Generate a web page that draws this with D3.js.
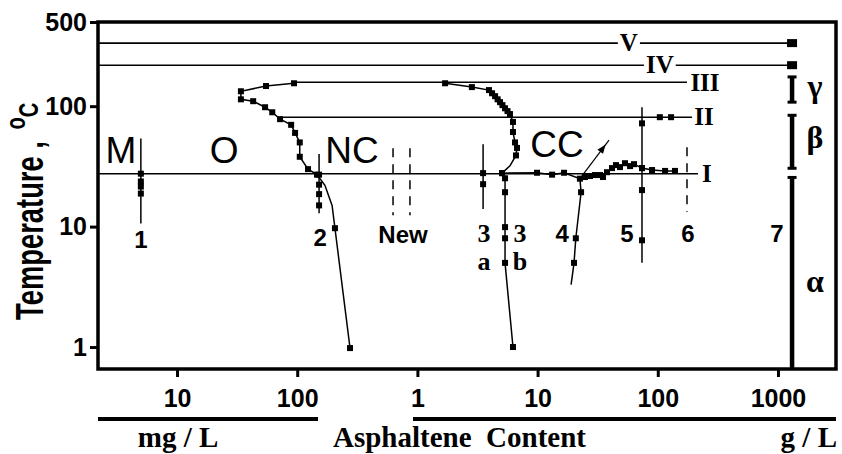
<!DOCTYPE html>
<html>
<head>
<meta charset="utf-8">
<script src="https://cdn.jsdelivr.net/npm/d3@7"></script>
<style>
  html, body { margin: 0; padding: 0; background: #fff; }
  svg { display: block; }
  .sans { font-family: "Liberation Sans", Arial, sans-serif; }
  .serif { font-family: "Liberation Serif", "Times New Roman", serif; font-weight: bold; }
</style>
</head>
<body>
<div id="chart"></div>
<script>
// asphaltene content in mg/L (1 g/L = 1000 mg/L), temperature in deg C
var xTickValues = [10, 100, 1000, 10000, 100000, 1000000];
var xTickLabels = ["10", "100", "1", "10", "100", "1000"];
var yTickValues = [1, 10, 100, 500];

// horizontal transition levels
var levelNames = ["V", "IV", "III", "II", "I"];
var levelTemp = [334, 219, 158, 81, 27.5];
var levelFrom = [2.2, 2.2, 94, 72, 2.2];
var levelTo = [1310000, 1310000, 175000, 193000, 216000];
var levelLabelAt = [57500, 104000, 247000, 242000, 256000];

// vertical probes 1, 2, 3a, 5
var probeX = [5, 152, 3520, 73900];
var probeTop = [54, 40, 48.4, 98];
var probeBottom = [10.6, 12.9, 14, 5.0];
var probeMarks = [[27.5, 23.7, 21.5, 18.8], [27, 22.3, 18.6, 15], [27.8, 22.5], [72, 30.6, 20.1, 7.7]];

// dashed probes (New, New, 6)
var dashX = [627, 867, 175000];
var dashTop = [44.8, 44.8, 45.7];
var dashBottom = [12.4, 12.4, 13.2];

// curves [mg/L, degC]
var curveO = [[94, 155], [55, 147], [34, 133], [34, 114], [43, 110], [54, 98], [62, 89], [72, 78],
  [89, 70], [96, 60], [105, 50], [105, 38], [123, 30], [146, 27], [170, 22], [195, 15], [206, 9.7], [275, 0.98]];
var curveCC = [[1700, 155], [2840, 144], [3940, 136], [4180, 128], [4430, 121], [4650, 114], [4870, 108],
  [5100, 102], [5360, 96], [5620, 91], [5890, 86], [6240, 74], [6240, 61], [6490, 50], [6740, 45],
  [6610, 39], [5890, 32], [5060, 27.8]];
var line3b = [[5060, 27.8], [5360, 25.2], [5360, 19.3], [5360, 9.9], [5360, 8.0], [5360, 5.0], [6240, 1.0]];
var trailCC = [[5060, 27.8], [9890, 28], [13200, 27], [16600, 28], [22500, 25], [24800, 25.8], [27300, 26.3],
  [30000, 26.8], [33100, 26.8], [35000, 25.8], [37800, 28.3], [41600, 30.6], [44900, 32.4], [48500, 31.2],
  [53400, 33.6], [58800, 31.8], [63400, 33.0], [73900, 30.6], [89600, 29.5], [115000, 29], [139000, 29]];
var line4 = [[22500, 25], [23000, 19.3], [20800, 8.0], [20100, 5.0], [19000, 3.3]];
var marksII = [104000, 129000];
var arrowFrom = [22500, 25];
var arrowTo = [39300, 52.3];

// column 7 and phases
var col7X = 1310000;
var phaseNames = ["\u03b1", "\u03b2", "\u03b3"];
var phaseLow = [0.657, 30.5, 108];
var phaseHigh = [25.6, 84, 175];
var phaseLabelT = [2.86, 44.8, 119];
var phaseLabelX = 2030000;

var regionNames = ["M", "O", "NC", "CC"];
var regionX = [3.42, 24.6, 286, 14500];
var regionT = [33.6, 33.6, 33.6, 37.8];

var noteText = ["1", "2", "New", "3", "a", "3", "b", "4", "5", "6", "7"];
var noteX = [5, 155, 759, 3580, 3580, 7150, 7150, 16000, 55500, 178000, 982000];
var noteT = [6.6, 6.9, 7.3, 7.43, 4.35, 7.43, 4.35, 7.43, 7.43, 7.43, 7.43];

;(function () {
    "use strict";

    var x = d3.scaleLog().domain([2.2, 3.04e6]).range([98, 836]);
    var y = d3.scaleLog().domain([0.657, 500]).range([369, 22]);

    var svg = d3.select("#chart").append("svg")
        .attr("width", 842)
        .attr("height", 454);

    var line = d3.line().x(function (d) { return x(d[0]); }).y(function (d) { return y(d[1]); });

    function path(points, w) {
        svg.append("path").attr("d", line(points))
            .attr("fill", "none").attr("stroke", "#000").attr("stroke-width", w || 1.5);
    }

    function squares(points, size) {
        svg.append("g").selectAll("rect").data(points).join("rect")
            .attr("x", function (d) { return x(d[0]) - size / 2; })
            .attr("y", function (d) { return y(d[1]) - size / 2; })
            .attr("width", size).attr("height", size)
            .attr("fill", "#000");
    }

    // levels
    levelNames.forEach(function (n, i) {
        path([[levelFrom[i], levelTemp[i]], [levelTo[i], levelTemp[i]]], 1.6);
    });

    // probes
    probeX.forEach(function (px, i) {
        path([[px, probeTop[i]], [px, probeBottom[i]]], 1.5);
        squares(probeMarks[i].map(function (t) { return [px, t]; }), 6);
    });
    dashX.forEach(function (px, i) {
        svg.append("path").attr("d", line([[px, dashTop[i]], [px, dashBottom[i]]]))
            .attr("stroke", "#000").attr("stroke-width", 1.5).attr("stroke-dasharray", "9,7");
    });

    // curves
    path(curveO);
    squares(curveO.filter(function (d, i) { return i !== 14 && i !== 15; }), 6);
    path(curveCC);
    path(curveCC.slice(2, 11), 4);
    squares(curveCC.filter(function (d, i) { return i !== 16; }), 6);
    path(line3b);
    squares(line3b, 6);
    path(trailCC);
    squares(trailCC.slice(1), 6);
    path(line4);
    squares(line4.slice(1, 4), 6);
    squares(marksII.map(function (v) { return [v, levelTemp[3]]; }), 6);

    // arrow
    var ax1 = x(arrowFrom[0]), ay1 = y(arrowFrom[1]), ax2 = x(arrowTo[0]), ay2 = y(arrowTo[1]);
    svg.append("line").attr("x1", ax1).attr("y1", ay1).attr("x2", ax2).attr("y2", ay2)
        .attr("stroke", "#000").attr("stroke-width", 1.2);
    var ang = Math.atan2(ay2 - ay1, ax2 - ax1) * 180 / Math.PI;
    var hx = ax1 + (ax2 - ax1) * 0.78, hy = ay1 + (ay2 - ay1) * 0.78;
    svg.append("path").attr("d", "M5,0L-4,-3.5L-4,3.5Z")
        .attr("transform", "translate(" + hx + "," + hy + ") rotate(" + ang + ")");

    // column 7
    var cx = x(col7X);
    phaseNames.forEach(function (n, i) {
        svg.append("line").attr("x1", cx).attr("x2", cx)
            .attr("y1", y(phaseLow[i])).attr("y2", y(phaseHigh[i]))
            .attr("stroke", "#000").attr("stroke-width", 4.5);
        [phaseLow[i], phaseHigh[i]].forEach(function (t, k) {
            if (i === 0 && k === 0) { return; }
            svg.append("line").attr("x1", cx - 4.5).attr("x2", cx + 4.5)
                .attr("y1", y(t)).attr("y2", y(t))
                .attr("stroke", "#000").attr("stroke-width", 3);
        });
        svg.append("text").attr("class", "serif").attr("font-size", 32)
            .attr("text-anchor", "middle")
            .attr("x", x(phaseLabelX)).attr("y", y(phaseLabelT[i])).text(n);
    });
    svg.append("g").selectAll("rect").data([levelTemp[0], levelTemp[1]]).join("rect")
        .attr("x", cx - 5).attr("y", function (t) { return y(t) - 4; })
        .attr("width", 10).attr("height", 8).attr("fill", "#000");

    // level labels
    levelNames.forEach(function (n, i) {
        var t = svg.append("text").attr("class", "serif").attr("font-size", 25)
            .attr("text-anchor", "middle")
            .attr("x", x(levelLabelAt[i])).attr("y", y(levelTemp[i])).attr("dy", "0.33em")
            .text(n);
        var b = t.node().getBBox();
        svg.insert("rect", function () { return t.node(); })
            .attr("x", b.x - 2).attr("y", b.y + 4).attr("width", b.width + 4).attr("height", b.height - 8)
            .attr("fill", "#fff");
    });

    // region + note labels
    regionNames.forEach(function (n, i) {
        svg.append("text").attr("class", "sans").attr("font-size", 37)
            .attr("text-anchor", "middle")
            .attr("x", x(regionX[i])).attr("y", y(regionT[i])).text(n);
    });
    noteText.forEach(function (n, i) {
        var serif = /^[3ab]$/.test(n);
        svg.append("text").attr("class", serif ? "serif" : "sans")
            .attr("font-weight", "bold").attr("font-size", serif ? 26 : 24)
            .attr("text-anchor", "middle")
            .attr("x", x(noteX[i])).attr("y", y(noteT[i])).text(n);
    });

    // axes
    var gy = svg.append("g").attr("transform", "translate(98,0)")
        .call(d3.axisLeft(y).tickValues(yTickValues).tickFormat(d3.format("d")).tickSize(8).tickPadding(3));
    var gx = svg.append("g").attr("transform", "translate(0,369)")
        .call(d3.axisBottom(x).tickValues(xTickValues).tickFormat(function (d, i) { return xTickLabels[i]; }).tickSize(8));
    [gx, gy].forEach(function (g) {
        g.select(".domain").remove();
        g.selectAll(".tick line").attr("stroke", "#000").attr("stroke-width", 3);
        g.selectAll(".tick text").attr("fill", "#000")
            .attr("font-family", "Liberation Sans, Arial, sans-serif")
            .attr("font-weight", "bold").attr("font-size", 25);
    });
    gx.selectAll(".tick text").attr("y", 38).attr("dy", null);

    svg.append("path").attr("d", "M98,22H836V369H98Z")
        .attr("fill", "none").attr("stroke", "#000").attr("stroke-width", 3.5);

    // y title
    var title = svg.append("text").attr("class", "sans").attr("font-weight", "bold")
        .attr("font-size", 38).attr("transform", "translate(43,320) rotate(-90) scale(0.72,1)");
    title.append("tspan").text("Temperature ,");
    title.append("tspan").attr("font-size", 28).attr("dx", 16).attr("dy", -18).text("o");
    title.append("tspan").attr("font-size", 28).attr("dy", 13).text("C");

    // bottom units
    svg.append("line").attr("x1", 98).attr("x2", 318).attr("y1", 419).attr("y2", 419)
        .attr("stroke", "#000").attr("stroke-width", 4);
    svg.append("line").attr("x1", 413).attr("x2", 836).attr("y1", 419).attr("y2", 419)
        .attr("stroke", "#000").attr("stroke-width", 4);
    svg.append("text").attr("class", "serif").attr("font-size", 29).attr("text-anchor", "middle")
        .attr("x", 178).attr("y", 447).attr("xml:space", "preserve").text("mg / L");
    svg.append("text").attr("class", "serif").attr("font-size", 29).attr("text-anchor", "start")
        .attr("x", 333).attr("y", 447).attr("xml:space", "preserve").text("Asphaltene  Content");
    svg.append("text").attr("class", "serif").attr("font-size", 29).attr("text-anchor", "end")
        .attr("x", 837).attr("y", 447).attr("xml:space", "preserve").text("g / L");
}());
</script>
</body>
</html>
